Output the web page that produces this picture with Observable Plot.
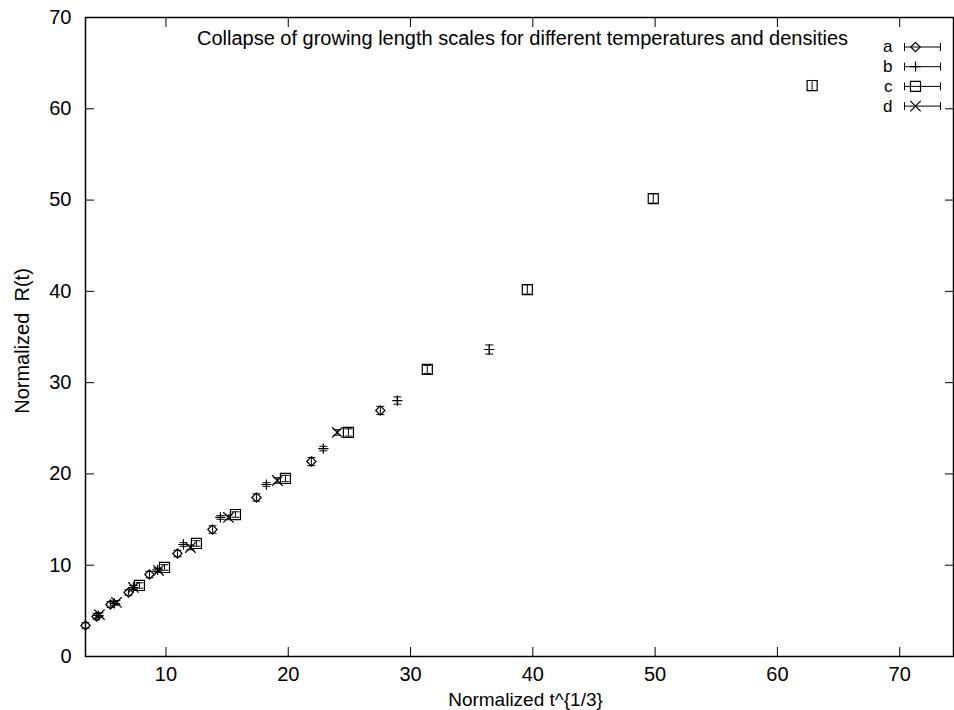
<!DOCTYPE html>
<html><head><meta charset="utf-8">
<script src="https://cdn.jsdelivr.net/npm/d3@7"></script>
<script src="https://cdn.jsdelivr.net/npm/@observablehq/plot@0.6"></script>
<style>
body{margin:0;background:#fff;}
#chart svg{display:block;}
</style></head><body><div id="chart"></div>
<script>
const titleText = "Collapse of growing length scales for different temperatures and densities";
const xLabel = "Normalized t^{1/3}";
const yLabel = "Normalized  R(t)";
const xTicks = [10, 20, 30, 40, 50, 60, 70];
const yTicks = [0, 10, 20, 30, 40, 50, 60, 70];
const seriesNames = ["a", "b", "c", "d"];

const aX = [3.42, 4.32, 5.46, 6.94, 8.65, 10.94, 13.80, 17.40, 21.89, 27.53];
const aY = [3.40, 4.38, 5.70, 7.01, 8.98, 11.28, 13.91, 17.42, 21.36, 26.95];
const aErr = [0.3, 0.3, 0.3, 0.3, 0.35, 0.35, 0.4, 0.4, 0.45, 0.45];

const bX = [4.48, 5.79, 7.34, 9.31, 11.43, 14.45, 18.21, 22.87, 28.92, 36.44];
const bY = [4.49, 5.81, 7.56, 9.50, 12.27, 15.23, 18.84, 22.78, 28.04, 33.63];
const bErr = [0.2, 0.2, 0.2, 0.2, 0.2, 0.2, 0.2, 0.25, 0.4, 0.5];

const cX = [7.83, 9.88, 12.49, 15.68, 19.77, 24.92, 31.37, 39.55, 49.85, 62.84];
const cY = [7.78, 9.75, 12.38, 15.55, 19.50, 24.54, 31.44, 40.20, 50.17, 62.55];
const cErr = [0.3, 0.3, 0.3, 0.3, 0.35, 0.4, 0.45, 0.5, 0.5, 0.55];

const dX = [4.56, 5.95, 7.34, 9.39, 12.00, 15.11, 19.11, 24.01];
const dY = [4.60, 5.92, 7.56, 9.42, 11.94, 15.23, 19.28, 24.54];
const dErr = [0.2, 0.2, 0.2, 0.2, 0.25, 0.25, 0.3, 0.3];

const table = (X, Y, E) => X.map((x, i) => ({x, y: Y[i], e: E[i]}));
const series = [
  {name: seriesNames[0], rows: table(aX, aY, aErr), symbol: "diamond2", r: 4.2},
  {name: seriesNames[1], rows: table(bX, bY, bErr), symbol: "plus", r: 3.4},
  {name: seriesNames[2], rows: table(cX, cY, cErr), symbol: "square2", r: 6.4},
  {name: seriesNames[3], rows: table(dX, dY, dErr), symbol: "times", r: 4.8}
];

const capSymbol = {draw(ctx) { ctx.moveTo(-4, 0); ctx.lineTo(4, 0); }};
const keySymbol = {draw(ctx) {
  ctx.moveTo(-18, 0); ctx.lineTo(18, 0);
  ctx.moveTo(-18, -4); ctx.lineTo(-18, 4);
  ctx.moveTo(18, -4); ctx.lineTo(18, 4);
}};

const FS = 20;
const KFS = 17;
const marks = [];
for (const s of series) {
  marks.push(Plot.ruleX(s.rows, {x: "x", y1: d => d.y - d.e, y2: d => d.y + d.e, stroke: "black", strokeWidth: 1}));
  marks.push(Plot.dot(s.rows, {x: "x", y: d => d.y - d.e, symbol: capSymbol, r: 1, fill: "none", stroke: "black", strokeWidth: 1}));
  marks.push(Plot.dot(s.rows, {x: "x", y: d => d.y + d.e, symbol: capSymbol, r: 1, fill: "none", stroke: "black", strokeWidth: 1}));
  marks.push(Plot.dot(s.rows, {x: "x", y: "y", symbol: s.symbol, r: s.r, fill: "none", stroke: "black", strokeWidth: 1.2}));
}
series.forEach((s, i) => {
  const dy = 29.5 + i * 19.7;
  marks.push(Plot.text([s.name], {frameAnchor: "top-right", text: d => d, dx: -61, dy, textAnchor: "end", lineAnchor: "middle", fontSize: KFS, fill: "black"}));
  marks.push(Plot.dot([s.name], {frameAnchor: "top-right", dx: -31, dy, symbol: keySymbol, r: 1, fill: "none", stroke: "black", strokeWidth: 1}));
  marks.push(Plot.dot([s.name], {frameAnchor: "top-right", dx: -38, dy, symbol: s.symbol, r: s.r, fill: "none", stroke: "black", strokeWidth: 1.2}));
});

const chart = Plot.plot({
  width: 954,
  height: 710,
  marginTop: 17,
  marginRight: 1,
  marginBottom: 54,
  marginLeft: 85,
  style: {fontFamily: "'Liberation Sans', Arial, sans-serif", fontSize: FS + "px", background: "white", color: "black"},
  x: {domain: [3.42, 74.4]},
  y: {domain: [0, 70]},
  marks: [
    Plot.frame({stroke: "black", strokeWidth: 1.5}),
    Plot.axisX(xTicks, {anchor: "bottom", tickSize: -9, tickPadding: 19, label: null, fontSize: FS}),
    Plot.axisX(xTicks, {anchor: "top", tickSize: -9, tickFormat: () => "", label: null}),
    Plot.axisY(yTicks, {anchor: "left", tickSize: -9, tickPadding: 23, label: null, fontSize: FS}),
    Plot.axisY(yTicks, {anchor: "right", tickSize: -9, tickFormat: () => "", label: null}),
    Plot.text([xLabel], {frameAnchor: "bottom", text: d => d, dx: 6, dy: 43.5, lineAnchor: "middle", fontSize: 19, fill: "black"}),
    Plot.text([yLabel], {frameAnchor: "left", text: d => d, dx: -63, dy: 4, rotate: -90, textAnchor: "middle", lineAnchor: "middle", fontSize: FS, fill: "black"}),
    Plot.text([titleText], {frameAnchor: "top", text: d => d, dx: 3, dy: 21, lineAnchor: "middle", fontSize: FS, fill: "black"}),
    ...marks
  ]
});
document.getElementById("chart").appendChild(chart);
</script>
</body></html>
